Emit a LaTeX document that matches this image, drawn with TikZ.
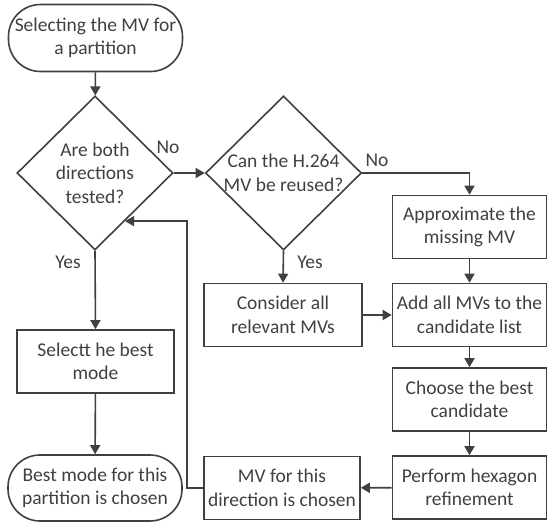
\documentclass[tikz,border=0pt]{standalone}
\usepackage{fontspec}
\setmainfont{Carlito}
\usetikzlibrary{shapes.geometric,arrows.meta}
\definecolor{ink}{HTML}{404040}
\begin{document}
\begin{tikzpicture}[
    x=1pt, y=-1pt, line width=1.6pt, color=ink,
    every node/.style={font=\fontsize{19.5}{23.5}\selectfont, align=center},
    box/.style={draw, rectangle, minimum width=154pt, minimum height=63pt, inner sep=0pt},
    term/.style={draw, rectangle, rounded corners=32pt, minimum width=174pt, minimum height=67pt, inner sep=0pt},
    decision/.style={draw, diamond, minimum width=156pt, minimum height=154pt, inner sep=-3pt},
    flow/.style={-{Triangle[length=9pt,width=10pt]}}]
    \useasboundingbox (0,0) rectangle (547,523);

    % Bloques del diagrama.
    \node[term] (start) at (95.5,38) {Selecting the MV for\\a partition};
    \node[decision] (both) at (95,173) {Are both\\directions\\tested?};
    \node[decision] (reuse) at (283.5,173) {Can the H.264\\MV be reused?};
    \node[box] (approx) at (469.5,227) {Approximate the\\missing MV};
    \node[box, minimum width=158pt] (consider) at (283,315) {Consider all\\relevant MVs};
    \node[box] (addall) at (469.5,315) {Add all MVs to the\\candidate list};
    \node[box] (choose) at (469.5,399.5) {Choose the best\\candidate};
    \node[box] (perform) at (469.5,487.5) {Perform hexagon\\refinement};
    \node[box, minimum width=156pt] (mvdir) at (282,488) {MV for this\\direction is chosen};
    \node[box, minimum width=157pt] (select) at (95.5,361.5) {Selectt he best\\mode};
    \node[term, minimum height=66pt] (final) at (95,488) {Best mode for this\\partition is chosen};

    % Etiquetas de las decisiones.
    \node (no1) at (168,147) {No};
    \node (no2) at (377,160) {No};
    \node (yes1) at (68,262) {Yes};
    \node (yes2) at (310,262) {Yes};

    % Conexiones.
    \draw[flow] (start) -- (both);
    \draw[flow] (both.east) -- (reuse.west);
    \draw[flow] (reuse.east) -| (approx.north);
    \draw[flow] (reuse.south) -- (consider.north);
    \draw[flow] (approx) -- (addall);
    \draw[flow] (consider) -- (addall);
    \draw[flow] (addall) -- (choose);
    \draw[flow] (choose) -- (perform);
    \draw[flow] (perform) -- (mvdir);
    \draw[flow] (mvdir.west) -- ++(-16,0) |- (both.-58.5);
    \draw[flow] (both.south) -- (select.north);
    \draw[flow] (select) -- (final);
\end{tikzpicture}
\end{document}
